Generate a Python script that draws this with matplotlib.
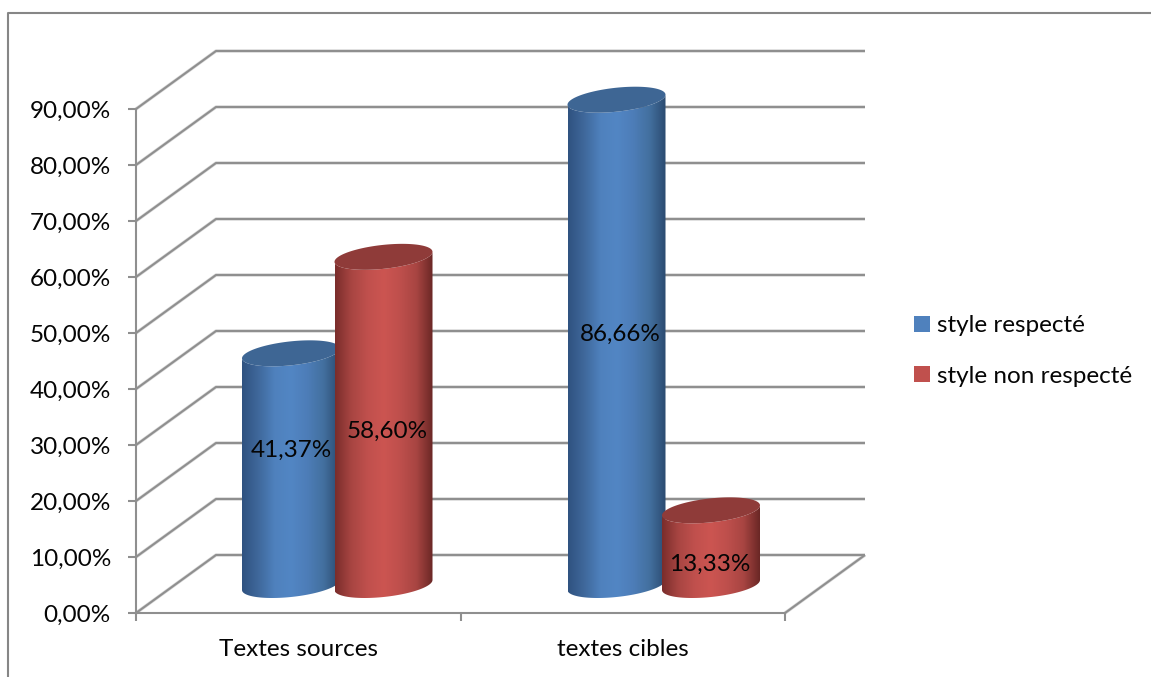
import numpy as np
import matplotlib
matplotlib.use("Agg")
import matplotlib.pyplot as plt
from matplotlib.colors import LinearSegmentedColormap
from matplotlib.lines import Line2D
from matplotlib.patches import Patch, Polygon

plt.rcParams['font.family'] = ['Lato', 'DejaVu Sans']

categories = ["Textes sources", "textes cibles"]
series_names = ["style respecté", "style non respecté"]
respecte = [41.37, 86.66]
non_respecte = [58.60, 13.33]
y_ticks = [0, 10, 20, 30, 40, 50, 60, 70, 80, 90]

W, H = 1151, 677
GRID = "#8f8f8f"
INK = "#050505"
FONT = 17.5

fig = plt.figure(figsize=(W / 100, H / 100), dpi=100)
ax = fig.add_axes([136 / W, (H - 613) / H, 649 / W, 504 / H])
ax.set_xlim(0, 2)
ax.set_ylim(0, 90)

# size of one data unit on screen, to convert pixel sizes of the 3d look
ux = 649 / 2
uy = 504 / 90
depth_x = 80 / ux
depth_y = 58 / uy


def fr(v):
    return f"{v:.2f}".replace(".", ",") + "%"


# axes
for s in ("top", "right"):
    ax.spines[s].set_visible(False)
for s in ("left", "bottom"):
    ax.spines[s].set_color(GRID)
    ax.spines[s].set_linewidth(1.5)
ax.set_yticks(y_ticks)
ax.set_yticklabels([fr(t) for t in y_ticks], fontsize=FONT, color=INK)
ax.set_xticks([0, 1, 2])
ax.set_xticklabels([])
ax.set_xticks([0.5, 1.5], minor=True)
ax.set_xticklabels(categories, minor=True, fontsize=FONT, color=INK)
ax.tick_params(axis="both", which="major", color=GRID, width=1.5, length=6)
ax.tick_params(axis="y", pad=12)
ax.tick_params(axis="x", which="minor", length=0, pad=18.5)
ax.patch.set_visible(False)


# walls: one diagonal on the left side and one line on the back for each tick
def wall_line(xs, ys):
    ax.plot(xs, ys, color="#d8d8d8", lw=2.4, clip_on=False, zorder=1,
            solid_capstyle="butt")
    ax.plot(xs, ys, color=GRID, lw=1.5, clip_on=False, zorder=1.1,
            solid_capstyle="butt")


for t in y_ticks:
    wall_line([0, depth_x, 2 + depth_x],
              [t, t + depth_y, t + depth_y])
wall_line([2, 2 + depth_x], [0, depth_y])


def rim(cx, cy, half_w, t):
    # sheared ellipse, the rims of the cylinders lean up to the right
    x = cx + half_w * np.cos(t)
    y = cy + (5 / uy) * np.cos(t) + (12 / uy) * np.sin(t)
    return x, y


def cylinder(cx, value, shades, top_color, z):
    half_w = 49 / ux
    base = 28 / uy
    top = base + value
    cmap = LinearSegmentedColormap.from_list("c", shades)

    # body: lower half of the base rim, then lower half of the top rim
    t = np.linspace(np.pi, 2 * np.pi, 60)
    bx, by = rim(cx, base, half_w, t)
    tx, ty = rim(cx, top, half_w, t[::-1])
    body = Polygon(np.column_stack([np.r_[bx, tx], np.r_[by, ty]]),
                   closed=True, transform=ax.transData, fc="none", ec="none")
    ax.add_patch(body)
    body.set_clip_on(False)
    im = ax.imshow(np.linspace(0, 1, 256).reshape(1, -1), cmap=cmap, aspect="auto",
                   extent=[cx - half_w, cx + half_w, base - 5, top + 5],
                   zorder=z, interpolation="bilinear")
    im.set_clip_box(fig.bbox)
    im.set_clip_path(body)

    t = np.linspace(0, 2 * np.pi, 120)
    x, y = rim(cx, top, half_w, t)
    ax.fill(x, y, color=top_color, zorder=z + 0.1, clip_on=False, lw=0)


BLUE = ["#2f5280", "#3f689b", "#4f81bd", "#5286c4", "#4d7db8", "#43709f", "#2b4a70"]
RED = ["#7a2d2b", "#a84542", "#c0504d", "#cc5551", "#be4f4c", "#a84542", "#6a2725"]

spread = 94.5 / ux
# label placement inside the cylinders, x shift in pixels and height in data units
label_dx = [[0, 5], [2, 0]]
label_y = [[29.1, 49.8], [32.5, 8.7]]
# small correction per bar, in pixels
bar_dx = [[0, 1], [-2, 1]]

for i, (vals, shades, top_c) in enumerate([(respecte, BLUE, "#3e6694"),
                                           (non_respecte, RED, "#8f3b39")]):
    for j, v in enumerate(vals):
        cx = j + 0.5 + depth_x / 2 + (i - 0.5) * spread + bar_dx[i][j] / ux
        cylinder(cx, v, shades, top_c, 3 + i + j * 0.01)
        ax.text(cx + (label_dx[i][j] - bar_dx[i][j]) / ux, label_y[i][j], fr(v),
                ha="center", va="center", fontsize=FONT, color=INK, zorder=6)

ax.set_xlim(0, 2)
ax.set_ylim(0, 90)

handles = [Patch(fc="#4f81bd", ec="none"), Patch(fc="#c0504d", ec="none")]
fig.legend(handles, series_names, loc="center left",
           bbox_to_anchor=(892 / W, 1 - 351 / H), frameon=False, fontsize=FONT,
           handlelength=0.66, handleheight=0.66, handletextpad=0.29,
           labelspacing=1.2, labelcolor=INK)

# outer chart border
fig.add_artist(Line2D([8 / W, 8 / W, 1], [0, 1 - 13 / H, 1 - 13 / H],
                      color="#868686", lw=1.5))

fig.savefig("out.png", dpi=100)
